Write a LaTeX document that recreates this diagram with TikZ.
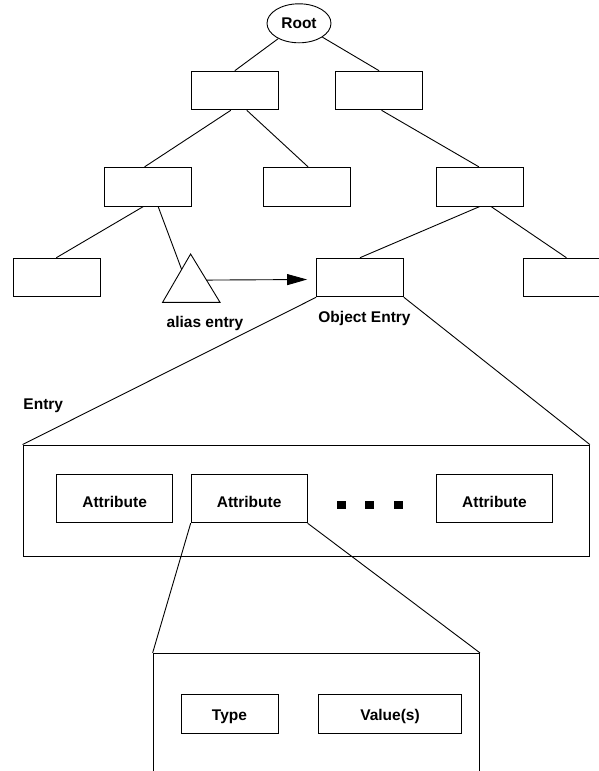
\documentclass[tikz,border=0pt]{standalone}
\usepackage{fontspec}
\setmainfont{Liberation Sans}
\usetikzlibrary{calc,arrows.meta,shapes.geometric}
\begin{document}
\begin{tikzpicture}[x=1pt,y=-1pt,
  every node/.style={font=\bfseries\fontsize{15.5}{18}\selectfont},
  every path/.style={line width=0.9pt},
  treebox/.style={draw,rectangle,inner sep=0pt,minimum width=86.9pt,minimum height=38.7pt},
  attrbox/.style={draw,rectangle,inner sep=0pt,minimum width=116pt,minimum height=48.5pt,text height=18pt,text depth=0pt},
  fieldbox/.style={draw,rectangle,inner sep=0pt,minimum height=39pt,text height=14pt,text depth=0pt},
  frame/.style={draw,rectangle,inner sep=0pt},
  dotsq/.style={fill=black,rectangle,inner sep=0pt,minimum width=8.6pt,minimum height=8.4pt},
  caption/.style={inner sep=0pt,anchor=base}
]
\useasboundingbox (0,0) rectangle (599,771);

% directory tree
\node[draw,ellipse,inner sep=0pt,minimum width=64pt,minimum height=39pt] (root) at (299,23.3) {Root};
\node[treebox] (l1a) at (234.8,90.5) {};
\node[treebox] (l1b) at (379.05,90.5) {};
\node[treebox] (l2a) at (148.1,186.65) {};
\node[treebox] (l2b) at (306.75,186.65) {};
\node[treebox] (l2c) at (479.9,186.65) {};
\node[treebox] (l3a) at (56.85,277.5) {};
\node[treebox] (obj) at (360,277.5) {};
\node[treebox] (l3c) at (566.4,277.5) {};

% alias entry marker
\draw (190.6,254) coordinate (triTop) -- (162.6,302.3) coordinate (triL)
      -- (220,302.3) coordinate (triR) -- cycle;

\draw (root) -- (l1a.north);
\draw (root) -- (l1b.north);
\draw ([xshift=-4pt]l1a.south) -- ([xshift=-3.5pt]l2a.north);
\draw ([xshift=12pt]l1a.south) -- ([xshift=1.3pt]l2b.north);
\draw ([xshift=2.5pt]l1b.south) -- ([xshift=-1pt]l2c.north);
\draw ([xshift=-4.6pt]l2a.south) -- ([xshift=-0.5pt]l3a.north);
\draw ([xshift=10pt]l2a.south) -- ($(triTop)!0.32!(triL)$);
\draw (l2c.south) -- (obj.north);
\draw ([xshift=11pt]l2c.south) -- (l3c.north);
\draw[-{Triangle[length=20pt,width=11pt]}] ($(triTop)!0.54!(triR)$) -- ([xshift=-9pt,yshift=-2pt]obj.west);

\node[caption] (aliaslbl) at (205,327) {alias entry};
\node[caption] (objlbl) at (364.5,322.5) {Object Entry};

% expanded entry
\node[caption,anchor=base west] (entrylbl) at (23,409) {Entry};
\node[frame,minimum width=566.4pt,minimum height=111.7pt] (entry) at (306.2,500.85) {};
\draw (obj.south west) -- (entry.north west);
\draw (obj.south east) -- (entry.north east);

\node[attrbox] (attr1) at (114.6,498.5) {Attribute};
\node[attrbox] (attr2) at (249.15,498.5) {Attribute};
\node[attrbox] (attr3) at (494.45,498.5) {Attribute};
\node[dotsq] (dot1) at (341.2,505.2) {};
\node[dotsq] (dot2) at (369.7,505.2) {};
\node[dotsq] (dot3) at (398.4,505.2) {};

% expanded attribute
\node[frame,minimum width=326.4pt,minimum height=118.2pt] (attrframe) at (316.3,712.4) {};
\draw (attr2.south west) -- (attrframe.north west);
\draw (attr2.south east) -- (attrframe.north east);
\node[fieldbox,minimum width=97pt] (typebox) at (229.5,713.5) {Type};
\node[fieldbox,minimum width=142.4pt] (valuebox) at (390,713.5) {Value(s)};
\end{tikzpicture}
\end{document}
